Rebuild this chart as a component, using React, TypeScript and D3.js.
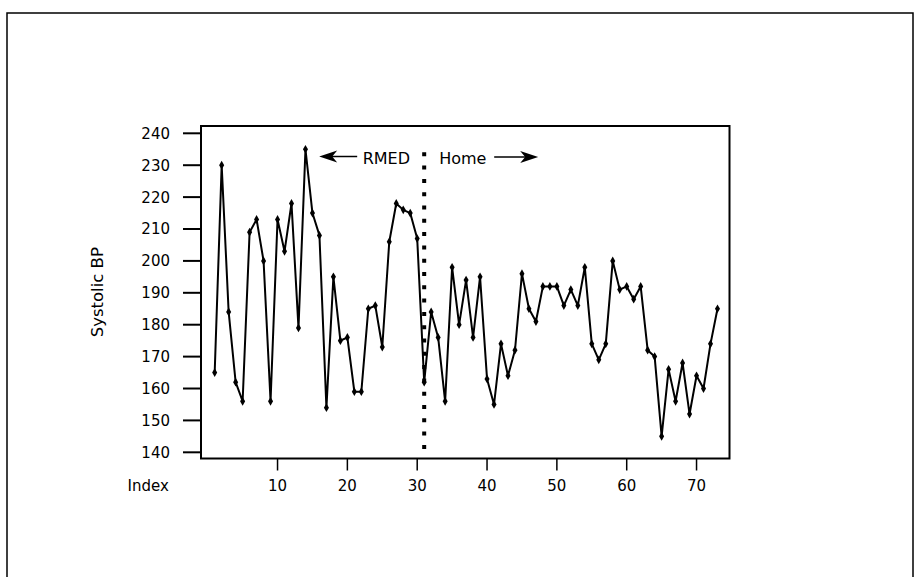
import React from "react";
import * as d3 from "d3";

const systolic: number[] = [
  165, 230, 184, 162, 156, 209, 213, 200, 156, 213,
  203, 218, 179, 235, 215, 208, 154, 195, 175, 176,
  159, 159, 185, 186, 173, 206, 218, 216, 215, 207,
  162, 184, 176, 156, 198, 180, 194, 176, 195, 163,
  155, 174, 164, 172, 196, 185, 181, 192, 192, 192,
  186, 191, 186, 198, 174, 169, 174, 200, 191, 192,
  188, 192, 172, 170, 145, 166, 156, 168, 152, 164,
  160, 174, 185,
];
const indexValues: number[] = systolic.map((_, i) => i + 1);
const xTicks: number[] = [10, 20, 30, 40, 50, 60, 70];
const yTicks: number[] = [140, 150, 160, 170, 180, 190, 200, 210, 220, 230, 240];
const dividerIndex = 31;
const yLabel = "Systolic BP";
const xLabel = "Index";
const leftNote = "RMED";
const rightNote = "Home";

const FONT = "'DejaVu Sans', Verdana, sans-serif";

export default function App() {
  const W = 917;
  const H = 577;
  const left = 201;
  const right = 729.5;
  const top = 126;
  const bottom = 458.5;

  const x = d3.scaleLinear().domain([-0.96, 74.72]).range([left, right]);
  const y = d3.scaleLinear().domain([138.06, 242.29]).range([bottom, top]);

  const line = d3
    .line<number>()
    .x((_, i) => x(indexValues[i]))
    .y((d) => y(d));

  const marker = d3.symbol().type(d3.symbolDiamond).size(22)();

  const divX = x(dividerIndex);
  const arrowY = 156.5;

  const headLeft = (tx: number, ty: number) =>
    `M${tx},${ty} L${tx + 18},${ty - 6} L${tx + 13},${ty} L${tx + 18},${ty + 6} Z`;
  const headRight = (tx: number, ty: number) =>
    `M${tx},${ty} L${tx - 18},${ty - 6} L${tx - 13},${ty} L${tx - 18},${ty + 6} Z`;

  const lTip = divX - 105;
  const rTip = divX + 114;

  return (
    <svg
      width={W}
      height={H}
      style={{ position: "absolute", left: 0, top: 0, background: "#fff" }}
      fontFamily={FONT}
    >
      <path d={`M7,${H + 2} L7,13 L913,13 L913,${H + 2}`} fill="none" stroke="#000" strokeWidth={1.5} />

      <rect x={left} y={top} width={right - left} height={bottom - top} fill="none" stroke="#000" strokeWidth={2} />

      {yTicks.map((t) => (
        <g key={"y" + t}>
          <line x1={left - 18} x2={left} y1={y(t)} y2={y(t)} stroke="#000" strokeWidth={2} />
          <text x={left - 31} y={y(t)} dy="0.36em" textAnchor="end" fontSize={15}>
            {t}
          </text>
        </g>
      ))}

      {xTicks.map((t) => (
        <g key={"x" + t}>
          <line x1={x(t)} x2={x(t)} y1={bottom} y2={bottom + 12} stroke="#000" strokeWidth={1.5} />
          <text x={x(t)} y={491} textAnchor="middle" fontSize={15}>
            {t}
          </text>
        </g>
      ))}
      <text x={127.5} y={491} fontSize={15}>
        {xLabel}
      </text>

      <text
        transform={`translate(103,${(top + bottom) / 2}) rotate(-90)`}
        textAnchor="middle"
        fontSize={16.5}
      >
        {yLabel}
      </text>

      <line
        x1={divX}
        x2={divX}
        y1={152.3}
        y2={bottom}
        stroke="#000"
        strokeWidth={4}
        strokeDasharray="4,9.3"
      />

      <path d={line(systolic) || ""} fill="none" stroke="#000" strokeWidth={2} strokeLinejoin="round" />
      {systolic.map((v, i) => (
        <path key={"m" + i} d={marker} transform={`translate(${x(indexValues[i])},${y(v)})`} fill="#000" />
      ))}

      <line x1={lTip + 12} x2={divX - 67} y1={arrowY} y2={arrowY} stroke="#000" strokeWidth={1.5} />
      <path d={headLeft(lTip, arrowY)} fill="#000" />
      <text x={divX - 61.5} y={163.5} fontSize={16}>
        {leftNote}
      </text>
      <text x={divX + 15} y={163.5} fontSize={16}>
        {rightNote}
      </text>
      <line x1={divX + 70} x2={rTip - 12} y1={arrowY + 0.5} y2={arrowY + 0.5} stroke="#000" strokeWidth={1.5} />
      <path d={headRight(rTip, arrowY + 0.5)} fill="#000" />
    </svg>
  );
}
